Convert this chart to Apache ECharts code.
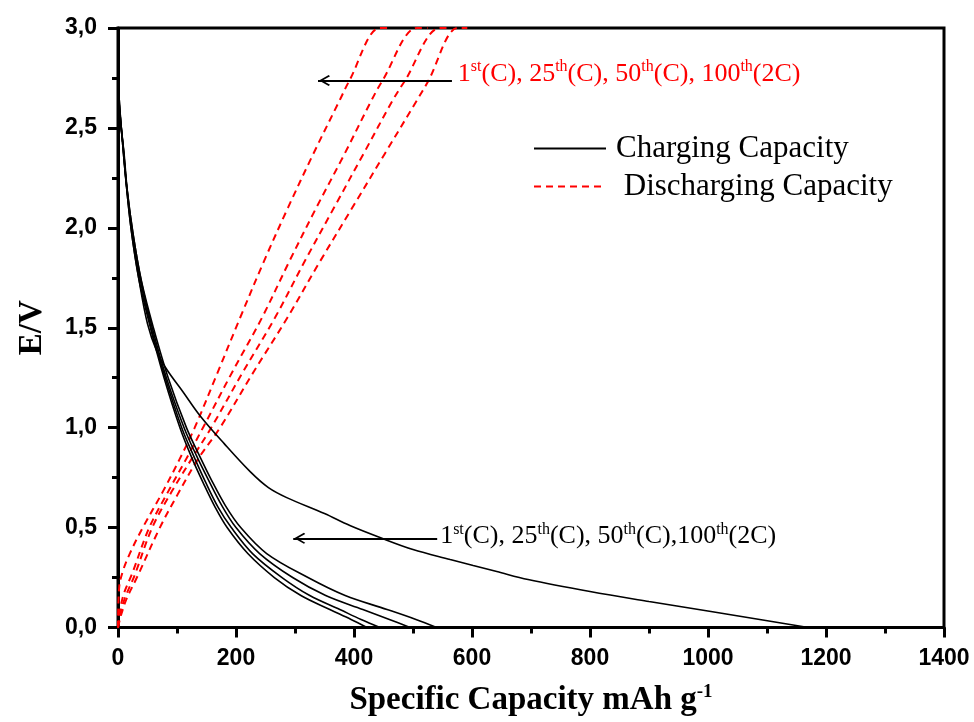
<!DOCTYPE html>
<html>
<head>
<meta charset="utf-8">
<script src="https://cdn.jsdelivr.net/npm/echarts@6/dist/echarts.min.js"></script>
<style>html,body{margin:0;padding:0;background:#fff}#c{width:974px;height:722px}</style>
</head>
<body>
<div id="c"></div>
<script>
// ---- data (x: specific capacity mAh/g, y: E/V) ----
const charge1st = [[0,2.75],[3,2.6],[7,2.45],[13,2.25],[22,2.0],[35,1.75],[50,1.52],[66,1.38],[83,1.29],[110,1.18],[139,1.06],[180,0.92],[224,0.78],[255,0.7],[286,0.65],[350,0.57],[393,0.51],[444,0.45],[500,0.39],[563,0.34],[602,0.31],[642,0.28],[695,0.24],[800,0.18],[900,0.13],[1005,0.08],[1098,0.035],[1170,0]];
const chargeA = [[0,2.75],[3,2.6],[7,2.45],[13,2.25],[22,2.0],[35,1.75],[55,1.5],[78,1.25],[105,1.0],[125,0.85],[145,0.72],[165,0.6],[185,0.5],[220,0.37],[265,0.25],[310,0.16],[359,0.09],[395,0.04],[422,0]];
const chargeB = [[0,2.73],[3,2.58],[8,2.43],[14,2.23],[23,2.0],[37,1.75],[56,1.5],[80,1.25],[108,1.0],[128,0.86],[148,0.73],[170,0.6],[192,0.5],[228,0.37],[278,0.25],[325,0.16],[376,0.09],[412,0.04],[444,0]];
const chargeC = [[0,2.7],[4,2.55],[9,2.4],[15,2.2],[25,1.98],[39,1.74],[58,1.5],[82,1.25],[112,1.0],[133,0.86],[153,0.74],[176,0.61],[200,0.5],[240,0.37],[296,0.25],[352,0.16],[415,0.09],[460,0.04],[495,0]];
const chargeD = [[0,2.68],[4,2.53],[10,2.38],[16,2.18],[26,1.96],[40,1.73],[60,1.5],[85,1.25],[116,1.0],[138,0.86],[158,0.74],[182,0.61],[208,0.5],[252,0.37],[322,0.25],[385,0.16],[456,0.09],[505,0.04],[540,0]];

const discharge1 = [[0,0],[2,0.2],[8,0.28],[20,0.37],[42,0.5],[76,0.68],[104,0.84],[130,1.0],[168,1.27],[207,1.55],[247,1.83],[288,2.1],[331,2.37],[376,2.64],[391,2.73],[444,3.0],[460,3.0]];
const discharge2 = [[0,0],[3,0.08],[10,0.17],[24,0.27],[53,0.5],[85,0.68],[115,0.84],[144,1.0],[194,1.28],[244,1.55],[290,1.83],[336,2.1],[384,2.37],[430,2.64],[447,2.73],[507,3.0],[525,3.0]];
const discharge3 = [[0,0],[4,0.07],[12,0.15],[28,0.26],[58,0.5],[91,0.68],[124,0.84],[158,1.0],[212,1.28],[266,1.55],[316,1.83],[366,2.1],[416,2.37],[466,2.64],[485,2.73],[546,3.0],[565,3.0]];
const discharge4 = [[0,0],[5,0.06],[14,0.14],[32,0.25],[71,0.5],[100,0.66],[135,0.84],[173,1.0],[230,1.28],[287,1.55],[342,1.83],[397,2.1],[452,2.37],[507,2.64],[525,2.73],[576,3.0],[592,3.0]];

const xTicks = {min: 0, max: 1400, interval: 200};
const yTicks = {min: 0, max: 3, interval: 0.5};
const seriesNames = ['Charging Capacity', 'Discharging Capacity'];
// annotation arrows: [fromX, toX, y] and label anchors [x, y]
const arrowTop = [566, 339, 2.737];
const arrowBottom = [541, 297, 0.446];
const labelTop = [576, 2.77];
const labelBottom = [546, 0.456];
const labelTopText = '{n|1}{s|st}{n|(C), 25}{s|th}{n|(C), 50}{s|th}{n|(C), 100}{s|th}{n|(2C)}';
const labelBottomText = '{n|1}{s|st}{n|(C), 25}{s|th}{n|(C), 50}{s|th}{n|(C),100}{s|th}{n|(2C)}';

const SERIF = '"Liberation Serif","Times New Roman",serif';
const SANS = '"Liberation Sans",Arial,sans-serif';
const arrowHead = 'path://M5,-12 L5,-12 M5,0 L10,9 L8.9,10.2 L5,3.3 L1.1,10.2 L0,9 Z';

function rich(color) {
  return {
    n: {fontFamily: SERIF, fontSize: 26, color: color, lineHeight: 30},
    s: {fontFamily: SERIF, fontSize: 16, color: color, verticalAlign: 'top', lineHeight: 16}
  };
}

function chargeSeries(data, extra) {
  return Object.assign({
    name: seriesNames[0], type: 'line', data: data, symbol: 'none', showSymbol: false,
    smooth: 0.35, clip: true,
    lineStyle: {color: '#000', width: 1.6, type: 'solid'}, itemStyle: {color: '#000'}, z: 3
  }, extra || {});
}
function dischargeSeries(data, extra) {
  return Object.assign({
    name: seriesNames[1], type: 'line', data: data, symbol: 'none', showSymbol: false,
    smooth: 0.35, clip: true,
    lineStyle: {color: '#ff0000', width: 2, type: [7, 5]}, itemStyle: {color: '#ff0000'}, z: 2
  }, extra || {});
}

function arrowMark(a) {
  return {
    silent: true, animation: false,
    symbol: ['none', arrowHead], symbolSize: [11, 24],
    lineStyle: {color: '#000', width: 2.2, type: 'solid'},
    label: {show: false},
    data: [[{coord: [a[0], a[2]]}, {coord: [a[1], a[2]]}]]
  };
}
function labelMark(p, text, color) {
  return {
    silent: true, animation: false, symbol: 'circle', symbolSize: 0,
    itemStyle: {color: 'transparent'},
    label: {show: true, position: 'right', distance: 0, formatter: text, rich: rich(color)},
    data: [{coord: p}]
  };
}

const chart = echarts.init(document.getElementById('c'), null, {renderer: 'canvas'});
const axisBase = {
  axisLine: {show: true, lineStyle: {color: '#000', width: 3}},
  axisTick: {show: true, inside: false, length: 10, lineStyle: {color: '#000', width: 3}},
  minorTick: {show: true, splitNumber: 2, length: 6, lineStyle: {color: '#000', width: 3}},
  splitLine: {show: false},
  minorSplitLine: {show: false}
};
chart.setOption({
  animation: false,
  backgroundColor: '#fff',
  grid: {left: 118, right: 30, top: 28, bottom: 89, show: true, borderColor: '#000', borderWidth: 3, backgroundColor: 'transparent'},
  legend: {
    orient: 'vertical', left: 528, top: 128, itemWidth: 72, itemHeight: 14, itemGap: 7,
    data: seriesNames,
    itemStyle: {opacity: 0},
    formatter: function (n) { return n === seriesNames[1] ? ' ' + n : n; },
    textStyle: {fontFamily: SERIF, fontSize: 31, color: '#000', padding: [0, 0, 0, 5]}
  },
  xAxis: Object.assign({
    type: 'value', min: xTicks.min, max: xTicks.max, interval: xTicks.interval,
    axisLabel: {fontFamily: SANS, fontWeight: 'bold', fontSize: 23, color: '#000', margin: 20,
      formatter: function (v) { return String(v); }},
    name: '{m|Specific Capacity mAh g}{s|-1}', nameLocation: 'middle', nameGap: 55,
    nameTextStyle: {
      rich: {
        m: {fontFamily: SERIF, fontWeight: 'bold', fontSize: 33, color: '#000', lineHeight: 36},
        s: {fontFamily: SERIF, fontWeight: 'bold', fontSize: 19, color: '#000', verticalAlign: 'top', lineHeight: 19}
      }
    }
  }, axisBase),
  yAxis: Object.assign({
    type: 'value', min: yTicks.min, max: yTicks.max, interval: yTicks.interval,
    axisLabel: {fontFamily: SANS, fontWeight: 'bold', fontSize: 23, color: '#000', margin: 21,
      formatter: function (v) { return v.toFixed(1).replace('.', ','); }},
    name: 'E/V', nameLocation: 'middle', nameGap: 69,
    nameTextStyle: {fontFamily: SERIF, fontWeight: 'bold', fontSize: 33, color: '#000'}
  }, axisBase),
  series: [
    dischargeSeries(discharge1, {markLine: arrowMark(arrowTop), markPoint: labelMark(labelTop, labelTopText, '#ff0000')}),
    dischargeSeries(discharge2),
    dischargeSeries(discharge3),
    dischargeSeries(discharge4),
    chargeSeries(charge1st, {markLine: arrowMark(arrowBottom), markPoint: labelMark(labelBottom, labelBottomText, '#000')}),
    chargeSeries(chargeA),
    chargeSeries(chargeB),
    chargeSeries(chargeC),
    chargeSeries(chargeD)
  ]
});
</script>
</body>
</html>
